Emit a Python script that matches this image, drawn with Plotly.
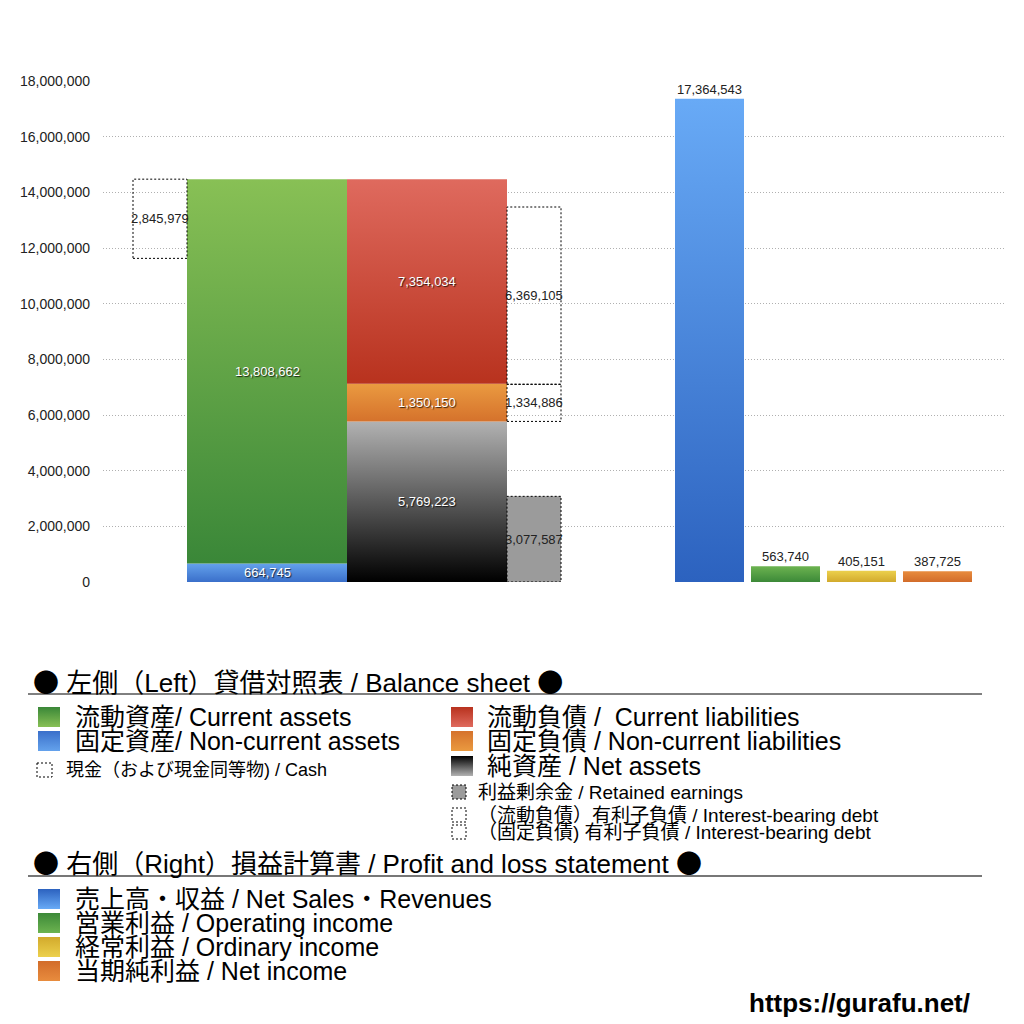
import plotly.graph_objects as go

# balance sheet (left)
current_assets = 13808662
noncurrent_assets = 664745
cash = 2845979
current_liab = 7354034
noncurrent_liab = 1350150
net_assets = 5769223
retained_earnings = 3077587
debt_current = 6369105
debt_noncurrent = 1334886

# profit and loss (right)
pl_names = ["売上高・収益", "営業利益", "経常利益", "当期純利益"]
pl_values = [17364543, 563740, 405151, 387725]

y_ticks = [0, 2000000, 4000000, 6000000, 8000000, 10000000,
           12000000, 14000000, 16000000, 18000000]

FONT = "Liberation Sans, Noto Sans CJK JP"
DOT = "<span style='font-family:Noto Sans CJK JP'>●</span>"

# layout constants (x axis in pixel-like units across the plot)
CASH_X = (30, 84)
ASSET_X = (84, 244)
LIAB_X = (244, 404)
DEBT_X = (404, 458)
PL_X0, PL_W, PL_STEP = 572, 69, 76

GRADS = {
    "green": ("#3a8738", "#88c055"),
    "blue": ("#3a6fca", "#64a2ec"),
    "red": ("#b8321e", "#df6a5e"),
    "orange": ("#d5722c", "#ea9a40"),
    "black": ("#000000", "#b2b2b2"),
    "blue2": ("#2c62bf", "#68aaf6"),
    "green2": ("#3c8938", "#6cb350"),
    "yellow": ("#d2aa2c", "#ecd04c"),
    "orange2": ("#d26c2a", "#e88c3e"),
}

fig = go.Figure()


def grad_rect(x0, x1, y0, y1, grad, ax="x", ay="y", flip=False):
    lo, hi = GRADS[grad]
    if flip:
        lo, hi = hi, lo
    fig.add_trace(go.Scatter(
        x=[x0, x1, x1, x0, x0], y=[y0, y0, y1, y1, y0],
        mode="lines", fill="toself",
        line=dict(width=0, color="rgba(0,0,0,0)"),
        fillgradient=dict(type="vertical", colorscale=[[0, lo], [1, hi]]),
        hoverinfo="skip", showlegend=False, xaxis=ax, yaxis=ay))


def dotted_rect(x0, x1, y0, y1, fillcolor=None, ax="x", ay="y"):
    fig.add_trace(go.Scatter(
        x=[x0, x1, x1, x0, x0], y=[y0, y0, y1, y1, y0],
        mode="lines", fill="toself" if fillcolor else None,
        fillcolor=fillcolor,
        line=dict(width=1, color="black", dash="2px,2px"),
        hoverinfo="skip", showlegend=False, xaxis=ax, yaxis=ay))


def label(x, y, text, white=False, yanchor="middle", ax="x", ay="y",
          size=13, xanchor="center", color="#222", bold=False):
    font = dict(family=FONT, size=size, color="white" if white else color)
    if white:
        font["shadow"] = "1px 1px 1px rgba(0,0,0,0.75)"
    if bold:
        font["weight"] = "bold"
    fig.add_annotation(x=x, y=y, xref=ax, yref=ay, text=text, showarrow=False,
                       xanchor=xanchor, yanchor=yanchor, font=font)


total_assets = current_assets + noncurrent_assets

# assets column
grad_rect(*ASSET_X, 0, noncurrent_assets, "blue")
grad_rect(*ASSET_X, noncurrent_assets, total_assets, "green")
dotted_rect(*CASH_X, total_assets - cash, total_assets)

# liabilities + net assets column
grad_rect(*LIAB_X, 0, net_assets, "black")
grad_rect(*LIAB_X, net_assets, net_assets + noncurrent_liab, "orange")
grad_rect(*LIAB_X, net_assets + noncurrent_liab,
          net_assets + noncurrent_liab + current_liab, "red")
dotted_rect(*DEBT_X, 0, retained_earnings, fillcolor="#9b9b9b")
dotted_rect(*DEBT_X, net_assets, net_assets + debt_noncurrent)
dotted_rect(*DEBT_X, net_assets + debt_noncurrent,
            net_assets + debt_noncurrent + debt_current)

mid = lambda a: (a[0] + a[1]) / 2
label(mid(ASSET_X), noncurrent_assets / 2, f"{noncurrent_assets:,}", white=True)
label(mid(ASSET_X), noncurrent_assets + current_assets / 2, f"{current_assets:,}", white=True)
label(mid(CASH_X), total_assets - cash / 2, f"{cash:,}")
label(mid(LIAB_X), net_assets / 2, f"{net_assets:,}", white=True)
label(mid(LIAB_X), net_assets + noncurrent_liab / 2, f"{noncurrent_liab:,}", white=True)
label(mid(LIAB_X), net_assets + noncurrent_liab + current_liab / 2,
      f"{current_liab:,}", white=True)
label(mid(DEBT_X), retained_earnings / 2, f"{retained_earnings:,}")
label(mid(DEBT_X), net_assets + debt_noncurrent / 2, f"{debt_noncurrent:,}")
label(mid(DEBT_X), net_assets + debt_noncurrent + debt_current / 2, f"{debt_current:,}")

# P&L bars
pl_grads = ["blue2", "green2", "yellow", "orange2"]
for i, (v, g) in enumerate(zip(pl_values, pl_grads)):
    x0 = PL_X0 + i * PL_STEP
    grad_rect(x0, x0 + PL_W, 0, v, g)
    label(x0 + PL_W / 2, v, f"{v:,}", yanchor="bottom")

# ---- legend area (overlay axes in pixel units) ----
def line(x0, x1, y, color, width):
    fig.add_shape(type="line", x0=x0, x1=x1, y0=y, y1=y, xref="x2", yref="y2",
                  line=dict(color=color, width=width))


def swatch(x, yc, grad, size=(22, 20)):
    grad_rect(x, x + size[0], yc - size[1] / 2, yc + size[1] / 2, grad,
              ax="x2", ay="y2", flip=True)


BIG, SMALL, HEAD = 25, 19, 26
L = dict(ax="x2", ay="y2", xanchor="left", color="black")
label(31, 680, f"{DOT} 左側（Left）貸借対照表 / Balance sheet {DOT}", size=HEAD, **L)
line(28, 982, 694, "black", 1)

swatch(38, 717, "green")
label(73, 717, "流動資産/ Current assets", size=BIG, **L)
swatch(38, 741, "blue")
label(73, 741, "固定資産/ Non-current assets", size=BIG, **L)
dotted_rect(37, 52, 763, 777, ax="x2", ay="y2")
label(64, 770, "現金（および現金同等物) / Cash", size=SMALL - 1, **L)

swatch(451, 717, "red")
label(485, 717, "流動負債 /  Current liabilities", size=BIG, **L)
swatch(451, 741, "orange")
label(485, 741, "固定負債 / Non-current liabilities", size=BIG, **L)
swatch(451, 766, "black")
label(485, 766, "純資産 / Net assets", size=BIG, **L)
dotted_rect(452, 466, 785, 799, fillcolor="#9b9b9b", ax="x2", ay="y2")
label(476, 792, "利益剰余金 / Retained earnings", size=SMALL, **L)
dotted_rect(452, 466, 808, 822, ax="x2", ay="y2")
label(476, 815, "（流動負債）有利子負債 / Interest-bearing debt", size=SMALL, **L)
dotted_rect(452, 466, 825, 839, ax="x2", ay="y2")
label(476, 832, "（固定負債) 有利子負債 / Interest-bearing debt", size=SMALL, **L)

label(31, 861, f"{DOT} 右側（Right）損益計算書 / Profit and loss statement {DOT}",
      size=HEAD, **L)
line(28, 982, 876, "#777777", 2)

pl_legend = ["売上高・収益 / Net Sales・Revenues", "営業利益 / Operating income",
             "経常利益 / Ordinary income", "当期純利益 / Net income"]
for i, (t, g) in enumerate(zip(pl_legend, pl_grads)):
    yc = 899 + i * 24
    swatch(38, yc, g)
    label(73, yc, t, size=BIG, **L)

label(972, 1003, "https://gurafu.net/", size=26, color="black", bold=True,
      ax="x2", ay="y2", xanchor="right")

fig.update_layout(
    width=1024, height=1024,
    margin=dict(l=0, r=0, t=0, b=0, autoexpand=False),
    plot_bgcolor="rgba(0,0,0,0)", paper_bgcolor="white",
    font=dict(family=FONT),
    showlegend=False,
    xaxis=dict(domain=[103 / 1024, 1005 / 1024], range=[0, 902], visible=False,
               fixedrange=True),
    yaxis=dict(domain=[442 / 1024, 943 / 1024], range=[0, 18000000],
               tickvals=y_ticks, tickformat=",d", showgrid=True,
               gridcolor="#b0b0b0", griddash="1px,2px", gridwidth=1,
               zeroline=False, showline=False, ticklabelstandoff=12,
               tickfont=dict(family=FONT, size=14, color="#222")),
    xaxis2=dict(domain=[0, 1], range=[0, 1024], visible=False, anchor="y2"),
    yaxis2=dict(domain=[0, 1], range=[1024, 0], visible=False, anchor="x2"),
)

fig.write_html("out.html", config={"displayModeBar": False},
               post_script="document.body.style.margin='0';")
